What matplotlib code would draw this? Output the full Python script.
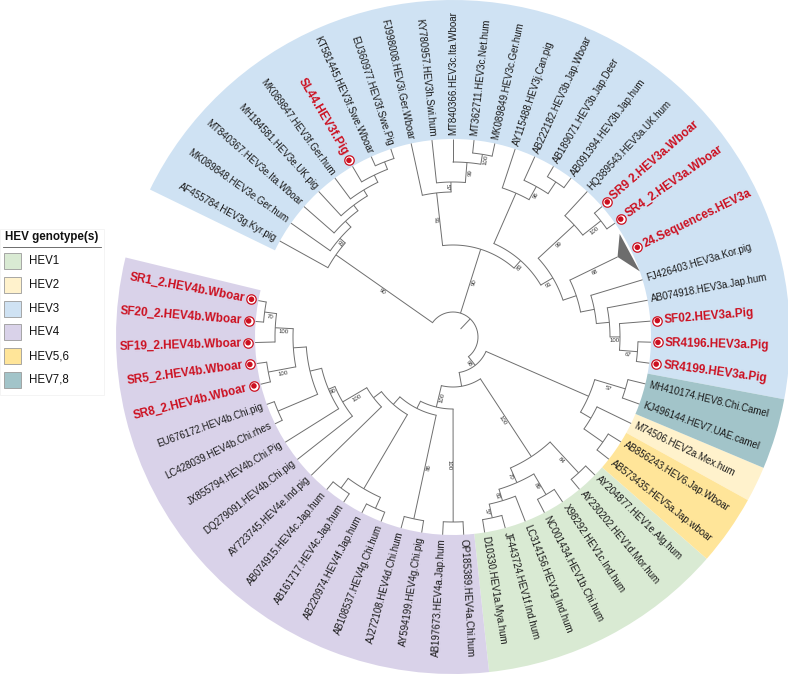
import numpy as np
import matplotlib
matplotlib.use("Agg")
import matplotlib.pyplot as plt
from matplotlib.patches import Wedge, Rectangle, Polygon

plt.rcParams["font.family"] = ["Liberation Sans", "DejaVu Sans"]

# leaves, clockwise from the lower end of the HEV3 range
leaf_labels = [
    "AF455784.HEV3g.Kyr.pig", "MK089848.HEV3e.Ger.hum", "MT840367.HEV3e.Ita.Wboar",
    "MH184581.HEV3e.UK.pig", "MK089847.HEV3f.Ger.hum", "SL44.HEV3f.Pig",
    "KT581445.HEV3f.Swe.Wboar", "EU360977.HEV3f.Swe.Pig", "FJ998008.HEV3i.Ger.Wboar",
    "KY780957.HEV3h.Swi.hum", "MT840366.HEV3c.Ita.Wboar", "MT362711.HEV3c.Net.hum",
    "MK089849.HEV3c.Ger.hum", "AY115488.HEV3j.Can.pig", "AB222182.HEV3b.Jap.Wboar",
    "AB189071.HEV3b.Jap.Deer", "AB091394.HEV3b.Jap.hum", "HQ389543.HEV3a.UK.hum",
    "SR9 2.HEV3a.Wboar", "SR4_2.HEV3a.Wboar", "24.Sequences.HEV3a",
    "FJ426403.HEV3a.Kor.pig", "AB074918.HEV3a.Jap.hum", "SF02.HEV3a.Pig",
    "SR4196.HEV3a.Pig", "SR4199.HEV3a.Pig", "MH410174.HEV8.Chi.Camel",
    "KJ496144.HEV7.UAE.camel", "M74506.HEV2a.Mex.hum", "AB856243.HEV6.Jap.Wboar",
    "AB573435.HEV5a.Jap.wboar", "AY204877.HEV1e.Alg.hum", "AY230202.HEV1d.Mor.hum",
    "X98292.HEV1c.Ind.hum", "NC001434.HEV1b.Chi.hum", "LC314156.HEV1g.Ind.hum",
    "JF443724.HEV1f.Ind.hum", "D10330.HEV1a.Mya.hum", "OP185389.HEV4a.Chi.hum",
    "AB197673.HEV4a.Jap.hum", "AY594199.HEV4g.Chi.pig", "AJ272108.HEV4d.Chi.hum",
    "AB108537.HEV4g.Chi.hum", "AB220974.HEV4f.Jap.hum", "AB161717.HEV4c.Jap.hum",
    "AB074915.HEV4c.Jap.hum", "AY723745.HEV4e.Ind.pig", "DQ279091.HEV4b.Chi.pig",
    "JX855794.HEV4b.Chi.Pig", "LC428039.HEV4b.Chi.rhes", "EU676172.HEV4b.Chi.pig",
    "SR8_2.HEV4b.Wboar", "SR5_2.HEV4b.Wboar", "SF19_2.HEV4b.Wboar",
    "SF20_2.HEV4b.Wboar", "SR1_2.HEV4b.Wboar",
]
red_keys = ["SL44", "SR9 2", "SR4_2", "24", "SF02", "SR4196", "SR4199",
            "SR8_2", "SR5_2", "SF19_2", "SF20_2", "SR1_2"]
collapsed = {"24": (183, 68)}   # apex radius, support

genotypes = ["HEV1", "HEV2", "HEV3", "HEV4", "HEV5,6", "HEV7,8"]
genotype_colors = ["#d9ead3", "#fff2cc", "#cfe2f3", "#d9d2e9", "#ffe599", "#a2c4c9"]
genotype_ranges = [(32, 38), (29, 29), (1, 26), (39, 56), (30, 31), (27, 28)]


def node(r, sup, *kids):
    return {"r": r, "sup": sup, "kids": kids}


# topology, node radius (px from centre) and bootstrap support
tree = node(25, None,
    node(143, 90, "AF455784",
        node(150, 91, "MK089848",
            node(158, None, "MT840367",
                node(165, None, "MH184581",
                    node(172, None, "MK089847",
                        node(180, None, "SL44",
                            node(188, None, "KT581445", "EU360977"))))))),
    node(92, 90,
        node(145, 91, "FJ998008",
            node(155, 57, "KY780957",
                node(175, 99, "MT840366",
                    node(185, 100, "MT362711", "MK089849")))),
        node(102, 83,
            node(157, None, "AY115488",
                node(172, 96, "AB222182",
                    node(186, None, "AB189071", "AB091394"))),
            node(116, 91,
                node(165, 99, "HQ389543",
                    node(188, 100, "SR9 2", "SR4_2")),
                node(130, None, "24",
                    node(144, None, "FJ426403",
                        node(157, None, "AB074918",
                            node(167, 100, "SF02",
                                node(185, 67, "SR4196", "SR4199")))))))),
    node(36, 98,
        node(148, None,
            node(180, 57, "MH410174", "KJ496144"),
            node(160, None, "M74506",
                node(183, None, "AB856243", "AB573435"))),
        node(50, None,
            node(143, 100,
                node(185, 84, "AY204877", "AY230202"),
                node(159, 70,
                    node(183, 89, "X98292", "NC001434"),
                    node(171, 83, "LC314156",
                        node(185, 57, "JF443724", "D10330")))),
            node(72, 100,
                node(185, 100, "OP185389", "AB197673"),
                node(80, None,
                    node(186, 86, "AY594199", "AJ272108"),
                    node(90, None,
                        node(176, None,
                            node(188, None, "AB108537", "AB220974"),
                            node(188, None, "AB161717", "AB074915")),
                        node(100, None, "AY723745",
                            node(128, 100, "DQ279091",
                                node(135, 90, "JX855794",
                                    node(147, None,
                                        node(190, None, "LC428039", "EU676172"),
                                        node(160, None,
                                            node(188, 100, "SR8_2", "SR5_2"),
                                            node(178, 100, "SF19_2",
                                                node(190, 70, "SF20_2", "SR1_2")))))))))))))

START, STEP = 151.0, 6.1
R_TIP, R_OUT = 198, 337
LINE, LW = "#6e6e6e", 0.7
RED = "#cc1020"
CX, CY = 453, 337   # tree centre in pixels

fig = plt.figure(figsize=(7.88, 6.75), dpi=100)
ax = fig.add_axes([0, 0, 1, 1])
ax.set_xlim(-CX, 788 - CX)
ax.set_ylim(-(675 - CY), CY)
ax.axis("off")


def pol(r, a):
    t = np.radians(a)
    return r * np.cos(t), r * np.sin(t)


# leaf angles
angle = {}
slot = 0.0
for lab in leaf_labels:
    key = lab.split(".")[0]
    if key in collapsed:
        slot += 0.5
    angle[key] = START - STEP * slot
    slot += 1.5 if key in collapsed else 1


def place(n):
    if isinstance(n, str):
        return angle[n]
    angs = [place(k) for k in n["kids"]]
    n["a"] = (angs[0] + angs[-1]) / 2
    return n["a"]


place(tree)

# coloured genotype ranges
for g, col, (i0, i1) in zip(genotypes, genotype_colors, genotype_ranges):
    a_first = angle[leaf_labels[i0 - 1].split(".")[0]]
    a_last = angle[leaf_labels[i1 - 1].split(".")[0]]
    ax.add_patch(Wedge((0, 0), R_OUT, a_last - STEP / 2, a_first + STEP / 2,
                       width=R_OUT - R_TIP, facecolor=col, edgecolor="none", zorder=0))


def radial(a, r0, r1):
    x0, y0 = pol(r0, a)
    x1, y1 = pol(r1, a)
    ax.plot([x0, x1], [y0, y1], color=LINE, lw=LW, solid_capstyle="butt", zorder=2)


def arc(r, a0, a1):
    t = np.linspace(a0, a1, int(abs(a1 - a0) * 2) + 2)
    x, y = pol(r, t)
    ax.plot(x, y, color=LINE, lw=LW, zorder=2)


def support(val, a, r0, r1):
    x, y = pol((r0 + r1) / 2, a)
    t = np.radians(a)
    if np.cos(t) >= -1e-9:
        dx, dy, rot = 4 * np.sin(t), -4 * np.cos(t), a
    else:
        dx, dy, rot = -4 * np.sin(t), 4 * np.cos(t), a - 180
    ax.text(x + dx, y + dy, str(val), rotation=rot, ha="center", va="center",
            rotation_mode="anchor", fontsize=4.3, color="#333333", zorder=4)


def draw(n):
    angs = []
    for k in n["kids"]:
        if isinstance(k, str):
            a = angle[k]
            if k in collapsed:
                r_end, sup = collapsed[k]
                radial(a, n["r"], r_end)
                support(sup, a, n["r"], r_end)
                ax.add_patch(Polygon([pol(r_end, a), pol(R_TIP - 2, a + 5.8), pol(R_TIP, a - 6.6)],
                                     closed=True, facecolor="#6d6d6d", edgecolor="none", zorder=2))
            else:
                radial(a, n["r"], R_TIP)
        else:
            a = k["a"]
            radial(a, n["r"], k["r"])
            if k["sup"]:
                support(k["sup"], a, n["r"], k["r"])
            draw(k)
        angs.append(a)
    arc(n["r"], angs[0], angs[-1])


draw(tree)
radial(tree["a"], 11, tree["r"])

# leaf labels and markers
for lab in leaf_labels:
    key = lab.split(".")[0]
    a = angle[key]
    red = key in red_keys
    if red:
        x, y = pol(205, a)
        ax.scatter([x], [y], s=46, facecolor="white", edgecolor=RED, linewidth=0.9, zorder=5)
        ax.scatter([x], [y], s=16, facecolor=RED, edgecolor="none", zorder=6)
    x, y = pol(212 if red else 202, a)
    right = np.cos(np.radians(a)) >= -1e-9
    ax.text(x, y, lab, rotation=a if right else a - 180,
            ha="left" if right else "right", va="center", rotation_mode="anchor",
            fontsize=8.5 if red else 7, fontweight="bold" if red else "normal",
            color=RED if red else "#1a1a1a", zorder=4)

# legend (drawn in pixel positions of the original)
def px(x, y):
    return x - CX, CY - y


ax.add_patch(Rectangle(px(0, 395), 104, 166, facecolor="white", edgecolor="#f0f0f0",
                       lw=0.5, zorder=6))
ax.text(*px(5, 237), "HEV genotype(s)", fontsize=8.4, fontweight="bold",
        ha="left", va="center", color="#111111", zorder=7)
ax.plot(*zip(px(3, 247), px(101, 247)), color="#555555", lw=0.6, zorder=7)
for i, (g, col) in enumerate(zip(genotypes, genotype_colors)):
    top = 253 + 23.8 * i
    ax.add_patch(Rectangle(px(4, top + 16), 17, 16, facecolor=col, edgecolor="#9a9a9a",
                           lw=0.6, zorder=7))
    ax.text(*px(29, top + 8), g, fontsize=8.3, ha="left", va="center",
            color="#111111", zorder=7)

fig.savefig("out.png", dpi=100)
